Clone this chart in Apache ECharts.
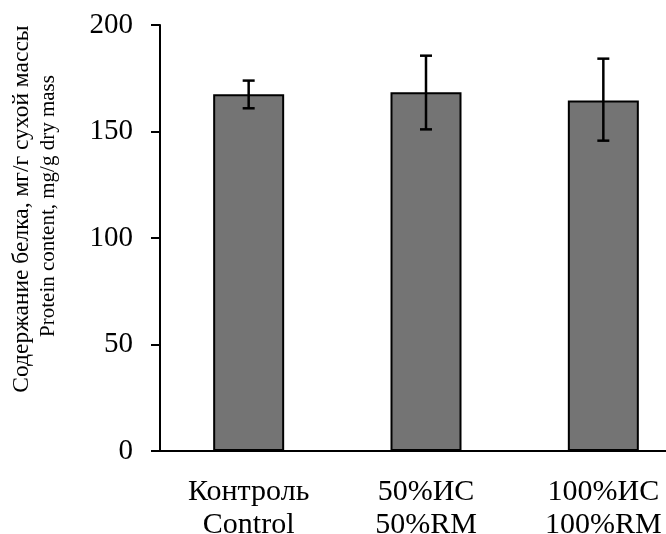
<!DOCTYPE html>
<html>
<head>
<meta charset="utf-8">
<script src="https://cdn.jsdelivr.net/npm/echarts@6/dist/echarts.min.js"></script>
<style>
  html, body { margin: 0; padding: 0; background: #fff; }
  #chart { width: 666px; height: 534px; }
</style>
</head>
<body>
<div id="chart"></div>
<script>
// данные
const categories = ['Контроль\nControl', '50%ИС\n50%RM', '100%ИС\n100%RM'];
const means = [167.5, 168.4, 164.6];
const errLow = [160.9, 151.0, 145.7];
const errHigh = [173.9, 185.6, 184.2];
const yTicks = [0, 50, 100, 150, 200];
const yTitle = ['Содержание белка, мг/г сухой массы', 'Protein content, mg/g dry mass'];

const font = '"Liberation Serif", "DejaVu Serif", serif';

const chart = echarts.init(document.getElementById('chart'));

// планки погрешностей
function renderError(params, api) {
    const idx = api.value(0);
    const top = api.coord([idx, api.value(2)]);
    const bottom = api.coord([idx, api.value(1)]);
    const half = 6;
    const style = { stroke: '#000', lineWidth: 2.5 };
    return {
        type: 'group',
        children: [
            { type: 'line', shape: { x1: top[0], y1: top[1], x2: bottom[0], y2: bottom[1] }, style },
            { type: 'line', shape: { x1: top[0] - half, y1: top[1], x2: top[0] + half, y2: top[1] }, style },
            { type: 'line', shape: { x1: bottom[0] - half, y1: bottom[1], x2: bottom[0] + half, y2: bottom[1] }, style }
        ]
    };
}

const option = {
    animation: false,
    backgroundColor: '#fff',
    // ось X уходит за правый край картинки
    grid: { left: 160, width: 532, top: 25, height: 426, outerBoundsMode: 'none', containLabel: false },
    xAxis: {
        type: 'category',
        data: categories,
        axisLine: { lineStyle: { color: '#000', width: 2 } },
        axisTick: { show: false },
        axisLabel: {
            color: '#000',
            fontFamily: font,
            fontSize: 30,
            lineHeight: 33,
            margin: 25,
            interval: 0
        }
    },
    yAxis: {
        type: 'value',
        min: yTicks[0],
        max: yTicks[yTicks.length - 1],
        interval: 50,
        splitLine: { show: false },
        axisLine: { show: true, lineStyle: { color: '#000', width: 2 } },
        axisTick: { show: true, length: 9, lineStyle: { color: '#000', width: 2 } },
        axisLabel: {
            color: '#000',
            fontFamily: font,
            fontSize: 29,
            margin: 27
        }
    },
    graphic: [
        {
            type: 'text', x: 22, y: 209, rotation: Math.PI / 2,
            style: { text: yTitle[0], font: '23.5px ' + font, fill: '#000', align: 'center', verticalAlign: 'middle' }
        },
        {
            type: 'text', x: 48, y: 206, rotation: Math.PI / 2,
            style: { text: yTitle[1], font: '21px ' + font, fill: '#000', align: 'center', verticalAlign: 'middle' }
        }
    ],
    series: [
        {
            type: 'bar',
            data: means,
            barWidth: 71,
            itemStyle: { color: '#747474', borderColor: '#000', borderWidth: 2 }
        },
        {
            type: 'custom',
            renderItem: renderError,
            data: means.map((m, i) => [i, errLow[i], errHigh[i]]),
            encode: { x: 0, y: [1, 2] },
            z: 10
        }
    ]
};

chart.setOption(option);
</script>
</body>
</html>
